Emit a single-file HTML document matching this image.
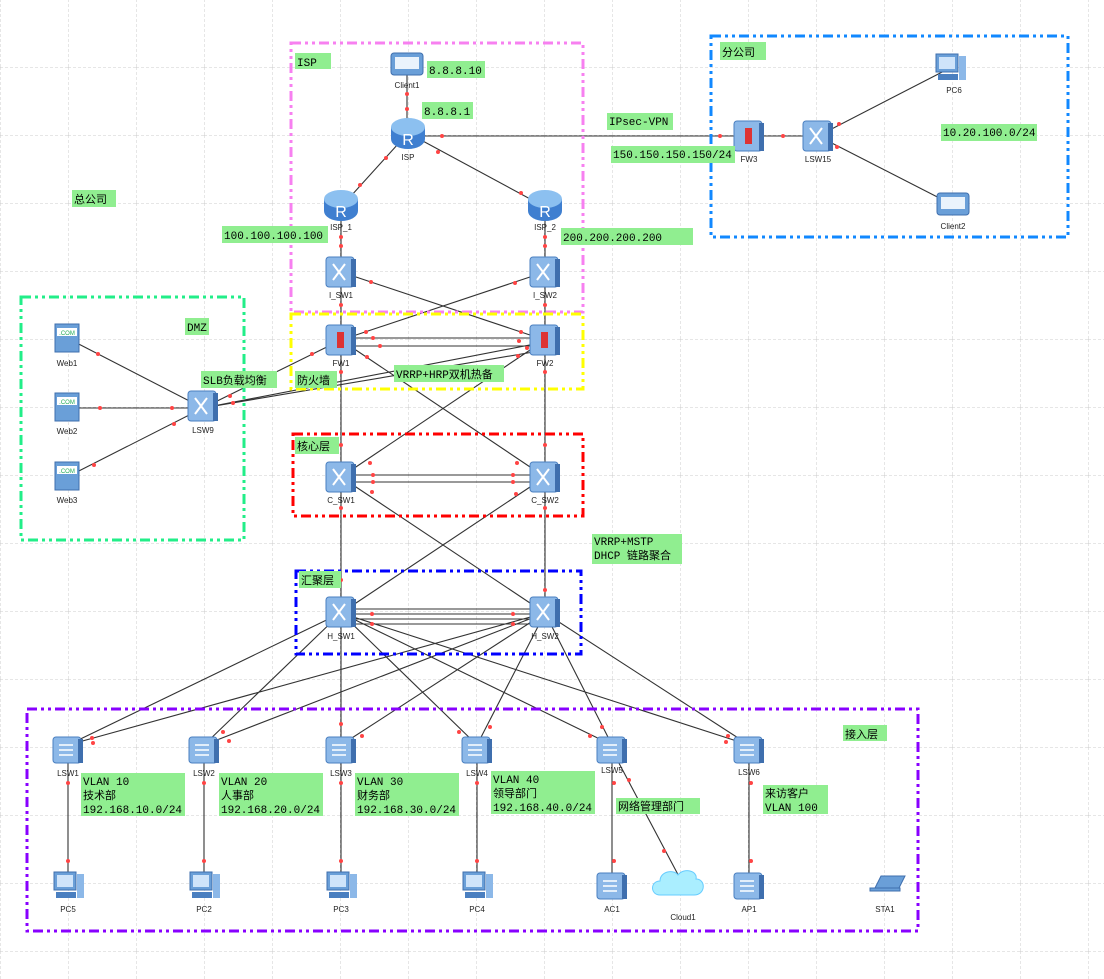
<!DOCTYPE html>
<html><head><meta charset="utf-8"><style>
body{margin:0;background:#fff}
svg{display:block}
text{font-family:"Liberation Sans","Noto Sans CJK SC",sans-serif}
.lb{font-size:8px;fill:#222;text-anchor:middle}
.g{fill:#90ee90}
.t{font-family:"Liberation Mono","Noto Sans CJK SC",monospace;font-size:11px;fill:#000}
.l{stroke:#333;stroke-width:1.1;fill:none}
.d{fill:#f44}
</style></head><body>
<svg width="1104" height="979" viewBox="0 0 1104 979">
<defs>
<pattern id="gr" width="68" height="68" patternUnits="userSpaceOnUse" x="0" y="-1">
<path d="M0 0H68M0 0V68" stroke="#ccc" stroke-dasharray="3,2" fill="none"/>
</pattern>
<g id="sw"><rect x="-15" y="-13" width="28" height="26" rx="3" fill="#8cb8e8" stroke="#4a7fc0"/><rect x="10" y="-11" width="5" height="24" fill="#3f6fae"/><path d="M-9 -5h14M-9 0h14M-9 5h14" stroke="#fff" stroke-width="1.5"/></g>
<g id="l3"><rect x="-15" y="-15" width="28" height="30" rx="3" fill="#8cb8e8" stroke="#4a7fc0"/><rect x="10" y="-13" width="5" height="28" fill="#3f6fae"/><path d="M-8 -8l12 16M4 -8l-12 16" stroke="#fff" stroke-width="2"/></g>
<g id="fw"><rect x="-15" y="-15" width="28" height="30" rx="3" fill="#8cb8e8" stroke="#4a7fc0"/><rect x="10" y="-13" width="5" height="28" fill="#3f6fae"/><rect x="-4" y="-8" width="7" height="16" fill="#d33"/></g>
<g id="rt"><ellipse cx="0" cy="6" rx="17" ry="10" fill="#3f7fd0"/><rect x="-17" y="-6" width="34" height="12" fill="#3f7fd0"/><ellipse cx="0" cy="-6" rx="17" ry="9" fill="#8cc0f0"/><text x="0" y="12" font-size="16" fill="#fff" text-anchor="middle" font-family="Liberation Sans">R</text></g>
<g id="pc"><rect x="-14" y="-14" width="22" height="18" fill="#6a9fd8" stroke="#3f6fae"/><rect x="-11" y="-11" width="16" height="12" fill="#cfe4fa"/><rect x="-12" y="6" width="20" height="6" fill="#4a7fc0"/><rect x="9" y="-12" width="7" height="24" fill="#8cb8e8"/></g>
<g id="sv"><rect x="-12" y="-14" width="24" height="28" fill="#6a9fd8" stroke="#3f6fae"/><rect x="-10" y="-10" width="20" height="8" fill="#fff"/><text x="0" y="-3" font-size="6" text-anchor="middle" fill="#2a5">.COM</text></g>
<g id="cl"><rect x="-16" y="-12" width="32" height="22" rx="3" fill="#6a9fd8" stroke="#3f6fae"/><rect x="-12" y="-8" width="24" height="12" fill="#eaf3fc"/></g>
</defs>
<rect width="1104" height="979" fill="url(#gr)"/>
<g class="l">
<path d="M407 68V133M408 133L341 207M408 133L545 207M408 136H749M749 136H818M818 136L950 68M818 136L953 205"/>
<path d="M341 207V272M545 207V272M341 272V613M545 272V613M341 272L545 340M545 272L341 340"/>
<path d="M341 338H545M341 346H545M341 340L545 477M545 340L341 477M203 408L341 340M203 408L545 342M203 408L545 350"/>
<path d="M67 338L203 408M67 408H203M67 477L203 408"/>
<path d="M341 475H545M341 482H545M341 477L545 613M545 477L341 613"/>
<path d="M341 609H545M341 614H545M341 619H545M341 624H545"/>
<path d="M341 613L68 745M545 613L68 745M341 613L204 745M545 613L204 745M341 613L341 750M545 613L341 745M341 613L477 745M545 613L477 745M341 613L612 745M545 613L612 745M341 613L749 745M545 613L749 745"/>
<path d="M68 750V886M204 750V886M341 750V886M477 750V886M612 750V886M612 750L683 884M749 750V886"/>
</g>
<g fill="none" stroke-width="3" stroke-dasharray="10,4,3,4,3,4">
<rect x="291" y="43" width="292" height="269" stroke="#f780f0"/>
<rect x="291" y="314" width="292" height="75" stroke="#ff0"/>
<rect x="21" y="297" width="223" height="243" stroke="#2e8"/>
<rect x="293" y="434" width="290" height="82" stroke="#f00"/>
<rect x="296" y="571" width="285" height="83" stroke="#00f"/>
<rect x="27" y="709" width="891" height="222" stroke="#80f"/>
<rect x="711" y="36" width="357" height="201" stroke="#18f"/>
</g>
<use href="#cl" x="407" y="65"/><text class="lb" x="407" y="88">Client1</text>
<use href="#rt" x="408" y="133"/><text class="lb" x="408" y="160">ISP</text>
<use href="#rt" x="341" y="205"/><text class="lb" x="341" y="230">ISP_1</text>
<use href="#rt" x="545" y="205"/><text class="lb" x="545" y="230">ISP_2</text>
<use href="#l3" x="341" y="272"/><text class="lb" x="341" y="298">I_SW1</text>
<use href="#l3" x="545" y="272"/><text class="lb" x="545" y="298">I_SW2</text>
<use href="#fw" x="341" y="340"/><text class="lb" x="341" y="366">FW1</text>
<use href="#fw" x="545" y="340"/><text class="lb" x="545" y="366">FW2</text>
<use href="#l3" x="203" y="406"/><text class="lb" x="203" y="433">LSW9</text>
<use href="#sv" x="67" y="338"/><text class="lb" x="67" y="366">Web1</text>
<use href="#sv" x="67" y="407"/><text class="lb" x="67" y="434">Web2</text>
<use href="#sv" x="67" y="476"/><text class="lb" x="67" y="503">Web3</text>
<use href="#l3" x="341" y="477"/><text class="lb" x="341" y="503">C_SW1</text>
<use href="#l3" x="545" y="477"/><text class="lb" x="545" y="503">C_SW2</text>
<use href="#l3" x="341" y="612"/><text class="lb" x="341" y="639">H_SW1</text>
<use href="#l3" x="545" y="612"/><text class="lb" x="545" y="639">H_SW2</text>
<use href="#sw" x="68" y="750"/><text class="lb" x="68" y="776">LSW1</text>
<use href="#sw" x="204" y="750"/><text class="lb" x="204" y="776">LSW2</text>
<use href="#sw" x="341" y="750"/><text class="lb" x="341" y="776">LSW3</text>
<use href="#sw" x="477" y="750"/><text class="lb" x="477" y="776">LSW4</text>
<use href="#sw" x="612" y="750"/><text class="lb" x="612" y="773">LSW5</text>
<use href="#sw" x="749" y="750"/><text class="lb" x="749" y="775">LSW6</text>
<use href="#pc" x="68" y="886"/><text class="lb" x="68" y="912">PC5</text>
<use href="#pc" x="204" y="886"/><text class="lb" x="204" y="912">PC2</text>
<use href="#pc" x="341" y="886"/><text class="lb" x="341" y="912">PC3</text>
<use href="#pc" x="477" y="886"/><text class="lb" x="477" y="912">PC4</text>
<use href="#sw" x="612" y="886"/><text class="lb" x="612" y="912">AC1</text>
<path d="M660 895c-10 0-10-14 0-14c0-10 14-12 18-6c6-8 20-4 18 4c10 0 10 16-2 16z" fill="#aef" stroke="#6cf"/><text class="lb" x="683" y="920">Cloud1</text>
<use href="#sw" x="749" y="886"/><text class="lb" x="749" y="912">AP1</text>
<path d="M875 888l6-12h24l-6 12zM870 888h30v3h-30z" fill="#6a9fd8" stroke="#3f6fae"/><text class="lb" x="885" y="912">STA1</text>
<use href="#fw" x="749" y="136"/><text class="lb" x="749" y="162">FW3</text>
<use href="#l3" x="818" y="136"/><text class="lb" x="818" y="162">LSW15</text>
<use href="#pc" x="950" y="68"/><text class="lb" x="954" y="93">PC6</text>
<use href="#cl" x="953" y="205"/><text class="lb" x="953" y="229">Client2</text>
<g class="d">
<circle cx="407" cy="94" r="2"/><circle cx="407" cy="109" r="2"/><circle cx="386" cy="158" r="2"/><circle cx="360" cy="185" r="2"/><circle cx="438" cy="152" r="2"/><circle cx="521" cy="193" r="2"/><circle cx="442" cy="136" r="2"/><circle cx="720" cy="136" r="2"/><circle cx="783" cy="136" r="2"/><circle cx="839" cy="124" r="2"/><circle cx="837" cy="147" r="2"/>
<circle cx="341" cy="237" r="2"/><circle cx="341" cy="246" r="2"/><circle cx="545" cy="237" r="2"/><circle cx="545" cy="246" r="2"/><circle cx="341" cy="305" r="2"/><circle cx="545" cy="305" r="2"/><circle cx="371" cy="282" r="2"/><circle cx="515" cy="283" r="2"/><circle cx="366" cy="332" r="2"/><circle cx="521" cy="332" r="2"/>
<circle cx="373" cy="338" r="2"/><circle cx="380" cy="346" r="2"/><circle cx="519" cy="341" r="2"/><circle cx="527" cy="348" r="2"/><circle cx="312" cy="354" r="2"/><circle cx="367" cy="357" r="2"/><circle cx="518" cy="356" r="2"/><circle cx="341" cy="372" r="2"/><circle cx="545" cy="372" r="2"/>
<circle cx="230" cy="396" r="2"/><circle cx="233" cy="403" r="2"/><circle cx="98" cy="354" r="2"/><circle cx="100" cy="408" r="2"/><circle cx="172" cy="408" r="2"/><circle cx="94" cy="465" r="2"/><circle cx="174" cy="424" r="2"/>
<circle cx="341" cy="445" r="2"/><circle cx="545" cy="445" r="2"/><circle cx="370" cy="463" r="2"/><circle cx="517" cy="463" r="2"/><circle cx="373" cy="475" r="2"/><circle cx="513" cy="475" r="2"/><circle cx="373" cy="482" r="2"/><circle cx="513" cy="482" r="2"/><circle cx="341" cy="508" r="2"/><circle cx="545" cy="508" r="2"/><circle cx="372" cy="492" r="2"/><circle cx="516" cy="494" r="2"/>
<circle cx="341" cy="580" r="2"/><circle cx="545" cy="590" r="2"/><circle cx="372" cy="614" r="2"/><circle cx="513" cy="614" r="2"/><circle cx="372" cy="624" r="2"/><circle cx="513" cy="624" r="2"/>
<circle cx="92" cy="738" r="2"/><circle cx="93" cy="743" r="2"/><circle cx="223" cy="732" r="2"/><circle cx="229" cy="741" r="2"/><circle cx="341" cy="724" r="2"/><circle cx="362" cy="736" r="2"/><circle cx="459" cy="732" r="2"/><circle cx="490" cy="727" r="2"/><circle cx="590" cy="736" r="2"/><circle cx="602" cy="727" r="2"/><circle cx="728" cy="736" r="2"/><circle cx="726" cy="742" r="2"/>
<circle cx="68" cy="783" r="2"/><circle cx="68" cy="861" r="2"/><circle cx="204" cy="783" r="2"/><circle cx="204" cy="861" r="2"/><circle cx="341" cy="783" r="2"/><circle cx="341" cy="861" r="2"/><circle cx="477" cy="783" r="2"/><circle cx="477" cy="861" r="2"/><circle cx="614" cy="783" r="2"/><circle cx="614" cy="861" r="2"/><circle cx="629" cy="780" r="2"/><circle cx="664" cy="851" r="2"/><circle cx="751" cy="783" r="2"/><circle cx="751" cy="861" r="2"/>
</g>
<rect class="g" x="295" y="53" width="36" height="16"/><text class="t" x="297" y="66">ISP</text>
<rect class="g" x="427" y="61" width="58" height="17"/><text class="t" x="429" y="74">8.8.8.10</text>
<rect class="g" x="422" y="102" width="51" height="17"/><text class="t" x="424" y="115">8.8.8.1</text>
<rect class="g" x="222" y="226" width="106" height="17"/><text class="t" x="224" y="239">100.100.100.100</text>
<rect class="g" x="561" y="228" width="132" height="17"/><text class="t" x="563" y="241">200.200.200.200</text>
<rect class="g" x="72" y="190" width="44" height="17"/><text class="t" x="74" y="203">总公司</text>
<rect class="g" x="185" y="318" width="24" height="17"/><text class="t" x="187" y="331">DMZ</text>
<rect class="g" x="201" y="371" width="76" height="17"/><text class="t" x="203" y="384">SLB负载均衡</text>
<rect class="g" x="295" y="371" width="42" height="17"/><text class="t" x="297" y="384">防火墙</text>
<rect class="g" x="394" y="365" width="110" height="17"/><text class="t" x="396" y="378">VRRP+HRP双机热备</text>
<rect class="g" x="295" y="437" width="44" height="17"/><text class="t" x="297" y="450">核心层</text>
<rect class="g" x="592" y="534" width="90" height="30"/><text class="t" x="594" y="545">VRRP+MSTP</text><text class="t" x="594" y="559">DHCP 链路聚合</text>
<rect class="g" x="299" y="571" width="42" height="17"/><text class="t" x="301" y="584">汇聚层</text>
<rect class="g" x="607" y="113" width="66" height="17"/><text class="t" x="609" y="125">IPsec-VPN</text>
<rect class="g" x="611" y="146" width="124" height="17"/><text class="t" x="613" y="158">150.150.150.150/24</text>
<rect class="g" x="720" y="42" width="46" height="18"/><text class="t" x="722" y="56">分公司</text>
<rect class="g" x="941" y="124" width="96" height="17"/><text class="t" x="943" y="136">10.20.100.0/24</text>
<rect class="g" x="843" y="725" width="44" height="16"/><text class="t" x="845" y="738">接入层</text>
<rect class="g" x="81" y="773" width="104" height="43"/><text class="t" x="83" y="785">VLAN 10</text><text class="t" x="83" y="799">技术部</text><text class="t" x="83" y="813">192.168.10.0/24</text>
<rect class="g" x="219" y="773" width="104" height="43"/><text class="t" x="221" y="785">VLAN 20</text><text class="t" x="221" y="799">人事部</text><text class="t" x="221" y="813">192.168.20.0/24</text>
<rect class="g" x="355" y="773" width="104" height="43"/><text class="t" x="357" y="785">VLAN 30</text><text class="t" x="357" y="799">财务部</text><text class="t" x="357" y="813">192.168.30.0/24</text>
<rect class="g" x="491" y="771" width="104" height="43"/><text class="t" x="493" y="783">VLAN 40</text><text class="t" x="493" y="797">领导部门</text><text class="t" x="493" y="811">192.168.40.0/24</text>
<rect class="g" x="616" y="798" width="84" height="16"/><text class="t" x="618" y="810">网络管理部门</text>
<rect class="g" x="763" y="785" width="65" height="29"/><text class="t" x="765" y="797">来访客户</text><text class="t" x="765" y="811">VLAN 100</text>
</svg>
</body></html>
